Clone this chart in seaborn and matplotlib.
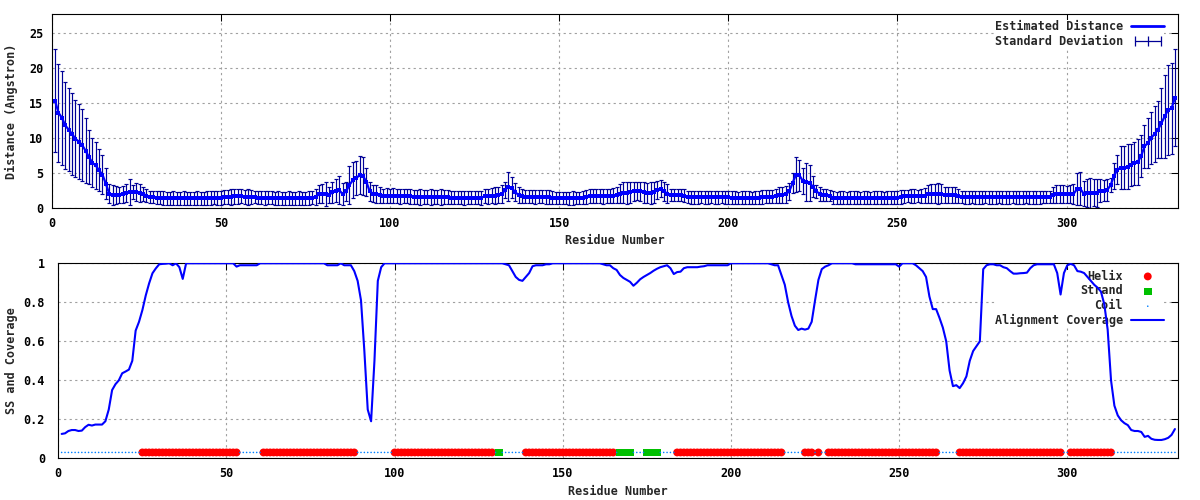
import matplotlib
matplotlib.use("Agg")
import matplotlib.pyplot as plt
from matplotlib.lines import Line2D
from matplotlib.legend_handler import HandlerLine2D
from matplotlib.ticker import MultipleLocator, FuncFormatter
import seaborn as sns

# Residue numbers 1..332, plot range 0..333
residues = list(range(1, 333))

# Estimated distance (Angstrom) per residue
distance = [
    15.3, 13.6, 12.9, 11.8, 11.2, 10.6, 9.9, 9.5, 9.0, 8.2,
    7.3, 6.5, 6.1, 5.4, 4.8, 3.5, 2.1, 1.9, 1.9, 1.9,
    2.0, 2.2, 2.3, 2.3, 2.3, 2.2, 2.1, 1.8, 1.6, 1.6,
    1.5, 1.5, 1.4, 1.4, 1.4, 1.4, 1.4, 1.4, 1.4, 1.4,
    1.4, 1.4, 1.4, 1.4, 1.4, 1.5, 1.5, 1.5, 1.5, 1.5,
    1.6, 1.6, 1.6, 1.7, 1.7, 1.7, 1.6, 1.6, 1.6, 1.6,
    1.5, 1.5, 1.5, 1.5, 1.5, 1.4, 1.4, 1.4, 1.4, 1.4,
    1.4, 1.4, 1.4, 1.4, 1.4, 1.5, 1.5, 1.6, 2.0, 2.1,
    2.0, 1.9, 2.3, 2.5, 2.6, 2.0, 2.4, 3.3, 4.0, 4.3,
    4.7, 4.6, 3.8, 2.4, 2.1, 2.0, 1.9, 1.8, 1.8, 1.8,
    1.8, 1.7, 1.7, 1.7, 1.7, 1.7, 1.6, 1.6, 1.6, 1.6,
    1.6, 1.6, 1.6, 1.6, 1.6, 1.6, 1.6, 1.5, 1.5, 1.5,
    1.5, 1.5, 1.5, 1.5, 1.5, 1.5, 1.5, 1.7, 1.7, 1.8,
    1.8, 1.9, 2.0, 2.6, 3.1, 2.9, 2.3, 1.9, 1.7, 1.65,
    1.65, 1.65, 1.6, 1.65, 1.65, 1.6, 1.6, 1.5, 1.45, 1.45,
    1.45, 1.45, 1.4, 1.45, 1.45, 1.45, 1.5, 1.6, 1.7, 1.7,
    1.75, 1.75, 1.7, 1.75, 1.75, 1.8, 1.9, 2.1, 2.2, 2.2,
    2.3, 2.4, 2.5, 2.4, 2.3, 2.2, 2.2, 2.3, 2.6, 2.8,
    2.4, 2.1, 1.9, 1.9, 1.9, 1.9, 1.8, 1.6, 1.55, 1.55,
    1.55, 1.55, 1.55, 1.55, 1.55, 1.55, 1.55, 1.55, 1.55, 1.55,
    1.5, 1.5, 1.5, 1.5, 1.5, 1.5, 1.5, 1.5, 1.5, 1.6,
    1.65, 1.65, 1.65, 1.7, 1.9, 1.9, 2.0, 2.4, 3.6, 4.8,
    4.7, 3.9, 3.8, 3.6, 3.1, 2.4, 2.1, 1.9, 1.9, 1.8,
    1.5, 1.5, 1.5, 1.5, 1.5, 1.5, 1.5, 1.5, 1.5, 1.5,
    1.5, 1.5, 1.5, 1.5, 1.5, 1.5, 1.5, 1.5, 1.5, 1.5,
    1.6, 1.7, 1.75, 1.75, 1.75, 1.75, 1.8, 1.8, 2.0, 2.1,
    2.1, 2.1, 2.1, 1.9, 1.9, 1.9, 1.9, 1.8, 1.6, 1.55,
    1.55, 1.55, 1.55, 1.55, 1.55, 1.55, 1.55, 1.55, 1.55, 1.55,
    1.55, 1.55, 1.55, 1.55, 1.55, 1.55, 1.55, 1.55, 1.55, 1.55,
    1.55, 1.55, 1.55, 1.6, 1.6, 1.9, 2.0, 2.0, 2.0, 2.0,
    2.0, 2.0, 2.7, 2.8, 2.1, 2.2, 2.2, 2.2, 2.2, 2.5,
    2.5, 2.6, 3.3, 4.6, 5.5, 5.8, 5.8, 5.9, 6.2, 6.4,
    6.6, 7.4, 8.8, 9.3, 10.0, 10.6, 11.2, 12.1, 13.1, 14.0,
    14.2, 15.7,
]

# Standard deviation per residue
std_dev = [
    7.3, 7.0, 6.7, 6.2, 5.9, 5.8, 5.5, 5.3, 5.1, 4.6,
    3.9, 3.5, 3.4, 3.0, 2.8, 2.2, 1.4, 1.4, 1.3, 1.2,
    1.2, 1.3, 1.9, 1.0, 1.3, 1.3, 1.0, 0.9, 0.9, 0.9,
    0.9, 0.9, 1.0, 0.9, 0.9, 1.0, 0.9, 0.9, 1.0, 0.9,
    0.9, 0.9, 1.0, 0.9, 0.9, 1.0, 1.0, 0.9, 1.0, 1.0,
    1.0, 1.0, 1.1, 1.1, 1.1, 1.0, 1.0, 1.1, 1.0, 0.9,
    0.9, 0.9, 1.0, 0.9, 0.9, 0.9, 1.0, 0.9, 0.9, 1.0,
    0.9, 0.9, 1.0, 0.9, 0.9, 1.0, 0.9, 1.1, 1.3, 1.4,
    1.7, 1.2, 1.5, 1.6, 2.0, 1.6, 1.3, 2.7, 2.6, 2.4,
    2.7, 2.7, 2.0, 1.4, 1.2, 1.3, 1.1, 1.0, 1.1, 1.0,
    1.1, 1.0, 1.1, 1.0, 1.0, 1.1, 1.0, 1.0, 1.1, 1.0,
    1.0, 1.1, 1.0, 1.0, 1.1, 1.0, 1.0, 0.9, 0.9, 0.9,
    0.9, 1.0, 0.9, 0.9, 0.9, 0.9, 1.0, 1.0, 1.1, 1.1,
    1.2, 1.2, 1.3, 1.2, 2.1, 1.5, 1.3, 1.1, 1.0, 0.95,
    0.95, 0.9, 1.0, 0.95, 0.9, 1.0, 0.95, 0.9, 0.9, 0.9,
    0.9, 0.9, 0.9, 0.95, 0.9, 0.9, 0.95, 1.0, 1.0, 1.0,
    1.0, 1.0, 1.05, 1.0, 1.0, 1.1, 1.2, 1.4, 1.5, 1.6,
    1.5, 1.4, 1.3, 1.4, 1.5, 1.4, 1.6, 1.5, 1.3, 1.2,
    1.3, 1.4, 0.8, 0.8, 0.8, 0.8, 0.9, 0.9, 0.9, 0.9,
    0.9, 0.85, 0.9, 0.9, 0.85, 0.9, 0.9, 0.85, 0.9, 0.9,
    0.9, 0.9, 0.85, 0.9, 0.9, 0.9, 0.85, 0.9, 0.9, 0.95,
    0.95, 0.95, 0.95, 1.0, 1.2, 1.2, 1.2, 1.2, 1.4, 2.5,
    2.2, 1.8, 2.7, 2.6, 1.5, 0.9, 1.0, 0.9, 0.8, 0.8,
    0.9, 0.85, 0.9, 0.9, 0.85, 0.9, 0.9, 0.9, 0.85, 0.9,
    0.9, 0.85, 0.9, 0.9, 0.9, 0.85, 0.9, 0.9, 0.9, 0.9,
    0.95, 0.95, 0.9, 1.0, 0.95, 0.9, 1.0, 1.1, 1.3, 1.4,
    1.4, 1.5, 1.4, 1.1, 1.1, 1.2, 1.1, 1.0, 0.9, 0.9,
    0.9, 0.85, 0.9, 0.9, 0.9, 0.85, 0.9, 0.9, 0.9, 0.85,
    0.9, 0.9, 0.9, 0.85, 0.9, 0.9, 0.9, 0.85, 0.9, 0.9,
    0.9, 0.9, 0.85, 0.9, 0.9, 1.2, 1.3, 1.3, 1.3, 1.2,
    1.3, 1.4, 2.3, 2.4, 1.8, 2.0, 2.1, 1.9, 2.0, 1.6,
    1.5, 1.5, 1.0, 1.9, 2.1, 3.0, 3.1, 3.2, 3.0, 3.1,
    3.3, 3.0, 3.1, 3.6, 3.7, 4.0, 4.0, 5.0, 5.9, 6.4,
    6.5, 6.9,
]

# Alignment coverage per residue
coverage = [
    0.125, 0.128, 0.14, 0.145, 0.145, 0.14, 0.142, 0.16, 0.172, 0.168,
    0.173, 0.173, 0.173, 0.19, 0.25, 0.35, 0.38, 0.40, 0.436, 0.445,
    0.455, 0.50, 0.655, 0.70, 0.76, 0.835, 0.897, 0.949, 0.974, 0.995,
    0.997, 0.998, 1.0, 0.99, 1.0, 0.98, 0.92, 1.0, 1.0, 1.0,
    1.0, 1.0, 1.0, 1.0, 1.0, 1.0, 1.0, 1.0, 1.0, 1.0,
    1.0, 1.0, 0.983, 0.99, 0.99, 0.99, 0.99, 0.99, 0.99, 1.0,
    1.0, 1.0, 1.0, 1.0, 1.0, 1.0, 1.0, 1.0, 1.0, 1.0,
    1.0, 1.0, 1.0, 1.0, 1.0, 1.0, 1.0, 1.0, 1.0, 0.99,
    0.99, 0.99, 0.99, 1.0, 0.99, 0.99, 0.99, 0.96, 0.91, 0.81,
    0.55, 0.25, 0.19, 0.50, 0.91, 0.98, 1.0, 1.0, 1.0, 1.0,
    1.0, 1.0, 1.0, 1.0, 1.0, 1.0, 1.0, 1.0, 1.0, 1.0,
    1.0, 1.0, 1.0, 1.0, 1.0, 1.0, 1.0, 1.0, 1.0, 1.0,
    1.0, 1.0, 1.0, 1.0, 1.0, 1.0, 1.0, 1.0, 1.0, 1.0,
    1.0, 1.0, 0.995, 0.99, 0.96, 0.93, 0.915, 0.91, 0.93, 0.95,
    0.985, 0.99, 0.99, 0.99, 0.995, 0.995, 1.0, 1.0, 1.0, 1.0,
    1.0, 1.0, 1.0, 1.0, 1.0, 1.0, 1.0, 1.0, 1.0, 1.0,
    1.0, 0.995, 0.99, 0.99, 0.975, 0.966, 0.94, 0.925, 0.915, 0.905,
    0.885, 0.90, 0.918, 0.93, 0.94, 0.95, 0.962, 0.972, 0.98, 0.985,
    0.99, 0.975, 0.945, 0.955, 0.957, 0.975, 0.98, 0.98, 0.98, 0.98,
    0.983, 0.985, 0.99, 0.99, 0.99, 0.99, 0.99, 0.99, 0.99, 1.0,
    1.0, 1.0, 1.0, 1.0, 1.0, 1.0, 1.0, 1.0, 1.0, 1.0,
    1.0, 0.995, 0.99, 0.99, 0.94, 0.89, 0.80, 0.73, 0.68, 0.658,
    0.665, 0.66, 0.665, 0.70, 0.81, 0.915, 0.97, 0.983, 0.99, 1.0,
    1.0, 1.0, 1.0, 1.0, 1.0, 1.0, 0.995, 0.995, 0.995, 0.995,
    0.995, 0.995, 0.995, 0.995, 0.995, 0.995, 0.995, 0.995, 0.995, 0.983,
    1.0, 1.0, 1.0, 1.0, 0.99, 0.975, 0.96, 0.93, 0.83, 0.765,
    0.765, 0.72, 0.67, 0.60, 0.45, 0.37, 0.375, 0.36, 0.385, 0.42,
    0.50, 0.55, 0.575, 0.60, 0.97, 0.99, 0.995, 0.995, 0.99, 0.99,
    0.98, 0.975, 0.96, 0.947, 0.947, 0.949, 0.95, 0.952, 0.975, 0.99,
    0.995, 0.995, 0.995, 0.995, 0.995, 0.995, 0.95, 0.84, 0.95, 0.99,
    0.997, 0.99, 0.96, 0.957, 0.95, 0.93, 0.91, 0.89, 0.875, 0.855,
    0.79, 0.66, 0.40, 0.27, 0.22, 0.195, 0.18, 0.17, 0.145, 0.14,
    0.14, 0.135, 0.11, 0.115, 0.10, 0.095, 0.094, 0.094, 0.098, 0.105,
    0.12, 0.15,
]

# Secondary structure segments (first, last residue)
helix_segments = [(25, 53), (61, 88), (100, 129), (139, 165), (184, 215),
                  (222, 224), (226, 226), (229, 261), (268, 298), (301, 313)]
strand_segments = [(131, 131), (167, 170), (175, 178)]
ss_level = 0.03

assert len(distance) == len(std_dev) == len(coverage) == len(residues)

# SS assignment per residue
ss = {r: "C" for r in residues}
for a, b in helix_segments:
    for r in range(a, b + 1):
        ss[r] = "H"
for a, b in strand_segments:
    for r in range(a, b + 1):
        ss[r] = "E"
helix_x = [r for r in residues if ss[r] == "H"]
strand_x = [r for r in residues if ss[r] == "E"]
coil_x = [r for r in residues if ss[r] == "C"]

sns.set_theme(style="white")
plt.rcParams["font.family"] = ["DejaVu Sans Mono"]
plt.rcParams["font.weight"] = "bold"
plt.rcParams["axes.labelweight"] = "bold"

FS = 8.5
BLUE = "#0000ff"
NAVY = "#000096"
GRID = dict(color="#a0a0a0", linestyle=(0, (2, 3)), linewidth=0.8)

fig = plt.figure(figsize=(12, 5), dpi=100)
ax1 = fig.add_axes([0.04308, 0.5834, 0.93883, 0.388])
ax2 = fig.add_axes([0.04858, 0.0834, 0.93333, 0.39])


def style_axes(ax, ypad):
    ax.set_axisbelow(True)
    ax.grid(True, **GRID)
    for s in ax.spines.values():
        s.set_color("black")
        s.set_linewidth(0.8)
    ax.tick_params(axis="both", direction="in", length=4.8, width=0.75,
                   top=True, right=True, labelsize=FS, colors="black")
    ax.tick_params(axis="x", pad=6)
    ax.tick_params(axis="y", pad=ypad)
    ax.set_xlim(0, 333)
    ax.xaxis.set_major_locator(MultipleLocator(50))


# ---- top panel: estimated distance with std errorbars
ax1.errorbar(residues, distance, yerr=std_dev, fmt="none", ecolor=NAVY,
             elinewidth=0.85, capsize=1.6, capthick=0.85, zorder=2)
sns.lineplot(x=residues, y=distance, ax=ax1, color=BLUE, linewidth=1.6,
             marker="s", markersize=2.2, markeredgewidth=0, errorbar=None,
             zorder=3)
style_axes(ax1, ypad=6)
ax1.set_ylim(0, 27.6)
ax1.yaxis.set_major_locator(MultipleLocator(5))
ax1.yaxis.set_major_formatter(FuncFormatter(lambda v, p: "%g" % v))
ax1.set_xlabel("Residue Number", fontsize=FS, fontweight="bold")
ax1.set_ylabel("Distance (Angstron)", fontsize=FS, fontweight="bold")
ax1.xaxis.set_label_coords(0.5, -0.166)
ax1.xaxis.label.set_va("center")
ax1.yaxis.set_label_coords(-0.0361, 0.5)
ax1.yaxis.label.set_va("center")

h_line = Line2D([], [], color=BLUE, linewidth=2)
h_err = Line2D([], [], color=NAVY, linewidth=0.9, marker="|",
               markersize=6.5, markeredgewidth=0.9)
leg1 = ax1.legend([h_line, h_err], ["Estimated Distance", "Standard Deviation"],
                  handler_map={h_err: HandlerLine2D(numpoints=3)},
                  loc="upper right", bbox_to_anchor=(0.9876, 0.972),
                  markerfirst=False, frameon=True, facecolor="white",
                  edgecolor="none", framealpha=1, fancybox=False,
                  borderpad=0, borderaxespad=0, handlelength=2.8,
                  handletextpad=0.7, labelspacing=0.2,
                  prop=dict(size=FS, weight="bold"))
leg1.set_zorder(2.5)

# ---- bottom panel: secondary structure and alignment coverage
sns.scatterplot(x=helix_x, y=[ss_level] * len(helix_x), ax=ax2, marker="o",
                s=32, color="#ff0000", edgecolor="none", linewidth=0,
                label="Helix", zorder=3)
sns.scatterplot(x=strand_x, y=[ss_level] * len(strand_x), ax=ax2, marker="s",
                s=30, color="#00c000", edgecolor="none", linewidth=0,
                label="Strand", zorder=3)
sns.scatterplot(x=coil_x, y=[ss_level] * len(coil_x), ax=ax2, marker="o",
                s=1.3, color="#0080ff", edgecolor="none", linewidth=0,
                label="Coil", zorder=3)
sns.lineplot(x=residues, y=coverage, ax=ax2, color=BLUE, linewidth=1.5,
             errorbar=None, label="Alignment Coverage", zorder=4)
style_axes(ax2, ypad=9.5)
ax2.set_ylim(0, 1)
ax2.yaxis.set_major_locator(MultipleLocator(0.2))
ax2.yaxis.set_major_formatter(FuncFormatter(lambda v, p: "%g" % round(v, 1)))
ax2.set_xlabel("Residue Number", fontsize=FS, fontweight="bold")
ax2.set_ylabel("SS and Coverage", fontsize=FS, fontweight="bold")
ax2.xaxis.set_label_coords(0.5, -0.168)
ax2.xaxis.label.set_va("center")
ax2.yaxis.set_label_coords(-0.0422, 0.5)
ax2.yaxis.label.set_va("center")

leg2 = ax2.legend(loc="upper right", bbox_to_anchor=(0.9875, 0.968),
                  markerfirst=False, frameon=True, facecolor="white",
                  edgecolor="none", framealpha=1, fancybox=False,
                  borderpad=0, borderaxespad=0, handlelength=2.8,
                  handletextpad=0.7, labelspacing=0.16,
                  prop=dict(size=FS, weight="bold"))
leg2.set_zorder(2.5)

fig.savefig("out.png", dpi=100)
